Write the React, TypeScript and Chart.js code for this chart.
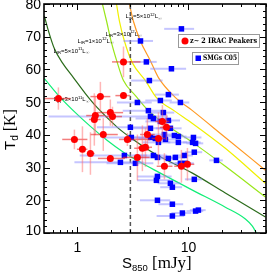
import React, { useEffect, useRef } from "react";
import { Chart, registerables } from "chart.js";
Chart.register(...registerables);

// ---------- data ----------
// z~2 IRAC peakers (red)
const redS = [2.60, 1.61, 2.60, 0.674, 1.98, 1.45, 2.07, 1.42, 1.71, 0.94, 2.82, 1.11, 1.31, 1.98, 5.83, 6.34, 4.27, 5.37, 4.10, 3.85, 3.47, 6.08, 8.65, 9.8];
const redT = [62.3, 51.7, 52.0, 51.1, 46.8, 45.9, 45.6, 44.7, 40.1, 38.6, 38.6, 35.6, 34.3, 32.8, 44.1, 42.3, 40.1, 38.9, 36.2, 35.9, 33.1, 30.4, 30.4, 31.0];
const redSlo = [0.55, 0.3, 0.4, 0.17, 0.48, 0.25, 0.28, 0.15, 0.4, 0.21, 0.45, 0.12, 0.1, 0.45, 0.8, 0.8, 0.6, 0.7, 0.6, 0.6, 0.9, 0.9, 1.2, 1.3];
const redShi = [1.1, 0.37, 0.4, 0.19, 0.6, 0.3, 0.45, 0.2, 0.6, 0.29, 1.7, 0.12, 0.12, 0.7, 0.9, 0.9, 0.7, 0.8, 0.6, 0.6, 1.0, 1.1, 1.3, 1.5];
const redTerr = [4.7, 4.5, 1.0, 3.4, 4.0, 6.0, 3.0, 8.0, 5.0, 3.0, 2.0, 7.0, 6.5, 1.0, 5.0, 4.0, 5.0, 8.0, 6.0, 7.0, 7.0, 4.0, 5.0, 5.0];

// SMGs C05 (blue)
const blueS = [8.65, 3.70, 4.18, 7.03, 4.45, 6.60, 3.47, 5.59, 8.47, 4.36, 5.95, 4.55, 4.84, 5.59, 6.60, 3.00, 4.55, 6.88, 3.06, 7.48, 8.12, 11.1, 6.08, 10.9, 11.6, 4.55, 5.04, 6.21, 5.37, 8.12, 11.3, 9.20, 7.63, 5.26, 4.84, 6.60, 9.40, 8.47, 17.9, 3.33, 2.65, 2.44, 5.26, 5.15, 11.3, 6.88, 7.17, 5.26, 7.17, 7.17, 8.83, 11.6, 12.3];
const blueT = [72.4, 68.7, 62.3, 60.2, 56.6, 52.3, 49.9, 50.5, 49.9, 47.4, 46.8, 45.6, 45.0, 44.1, 44.4, 42.3, 42.0, 42.0, 39.2, 39.8, 39.5, 39.2, 40.1, 37.7, 37.4, 39.2, 38.9, 38.6, 37.7, 37.7, 34.7, 33.7, 33.1, 33.1, 33.7, 32.8, 31.3, 31.3, 32.2, 31.3, 33.7, 31.6, 27.3, 26.1, 26.4, 25.2, 24.0, 20.0, 18.8, 15.2, 16.1, 16.7, 17.0];
const blueSlo = [2.6, 1.1, 1.0, 2.5, 1.4, 1.6, 1.2, 1.5, 1.7, 1.8, 1.5, 4.0, 1.5, 1.5, 1.8, 1.5, 1.6, 1.8, 1.4, 1.5, 1.5, 2.0, 1.5, 2.0, 2.0, 1.6, 1.5, 1.5, 1.5, 1.6, 2.0, 1.8, 1.7, 1.6, 1.6, 1.5, 1.8, 1.8, 2.5, 1.5, 1.6, 1.5, 1.8, 1.7, 2.0, 1.6, 1.6, 1.6, 1.8, 2.0, 1.8, 2.0, 2.0];
const blueShi = [2.6, 1.1, 1.0, 2.5, 1.4, 1.6, 1.2, 1.5, 1.7, 1.8, 1.5, 2.0, 1.5, 1.5, 1.8, 1.5, 1.6, 1.8, 1.4, 1.5, 1.5, 2.0, 1.5, 2.0, 2.0, 1.6, 1.5, 1.5, 1.5, 1.6, 2.0, 1.8, 1.7, 1.6, 1.6, 1.5, 1.8, 1.8, 2.5, 1.5, 1.6, 1.5, 1.8, 1.7, 2.0, 1.6, 1.6, 1.6, 1.8, 2.0, 1.8, 2.0, 2.0];

// constant L_IR curves
const c3e11S = [0.504, 0.703, 0.959, 1.31, 1.86, 2.60, 3.69, 5.37, 10.87, 21.5, 32.6, 37.7, 41.0];
const c3e11T = [57.2, 51.4, 46.8, 42.6, 38.3, 34.7, 31.6, 28.6, 23.1, 17.9, 14.3, 12.1, 10.0];
const c5e11S = [0.504, 0.548, 0.621, 0.733, 0.920, 1.18, 1.51, 2.29, 3.00, 4.94, 10.87, 21.5, 49.4];
const c5e11T = [76.3, 71.8, 66.3, 62.0, 57.5, 52.6, 48.3, 42.3, 39.2, 34.3, 28.3, 22.2, 14.9];
const c1e12S = [1.68, 1.83, 2.03, 2.29, 2.60, 3.33, 4.36, 6.60, 10.87, 21.5, 49.4];
const c1e12T = [80.0, 74.8, 68.1, 62.0, 56.6, 52.0, 47.4, 42.6, 37.7, 30.4, 21.0];
const c3e12S = [2.25, 2.39, 2.65, 3.13, 4.10, 5.15, 7.64, 10.87, 21.5, 49.4];
const c3e12T = [80.0, 74.8, 68.7, 62.0, 56.6, 51.4, 47.1, 43.5, 35.9, 25.2];
const c5e12S = [2.94, 3.19, 3.69, 4.55, 5.37, 7.64, 10.87, 21.5, 49.4];
const c5e12T = [80.0, 74.8, 68.7, 62.6, 57.5, 51.4, 47.4, 39.2, 29.2];

const dashS = [3, 3];
const dashT = [10, 80];

const xTickValues = [1, 10];
const xTickLabels = ["1", "10"];
const xMinorValues = [0.6, 0.7, 0.8, 0.9, 2, 3, 4, 5, 6, 7, 8, 9, 20, 30, 40, 50];
const yTickValues = [10, 20, 30, 40, 50, 60, 70, 80];
const yTickLabels = ["10", "20", "30", "40", "50", "60", "70", "80"];

// curve labels: mantissa, exponent, anchor S, anchor T
const lblMant = ["5", "3", "1", "5", "3"];
const lblExp = ["12", "12", "12", "11", "11"];
const lblS = [2.71, 1.79, 1.0, 0.608, 0.608];
const lblT = [75.7, 70.3, 68.1, 65.1, 50.2];

const pts = (xs: number[], ys: number[]) => xs.map((x, i) => ({ x, y: ys[i] }));

type Run = { t: string; s: number; dy?: number; f?: string };
function drawRuns(ctx: CanvasRenderingContext2D, x: number, y: number, runs: Run[], defFont: string) {
  for (const r of runs) {
    ctx.font = `${r.s}px ${r.f || defFont}`;
    ctx.fillText(r.t, x, y + (r.dy || 0));
    x += ctx.measureText(r.t).width;
  }
  return x;
}

const RED_IDX = 0;
const BLUE_IDX = 1;

const decor = {
  id: "decor",
  beforeDatasetDraw(chart: any, args: any) {
    const ctx: CanvasRenderingContext2D = chart.ctx;
    const xs = chart.scales.x, ys = chart.scales.y;
    const a = chart.chartArea;
    ctx.save();
    ctx.beginPath();
    ctx.rect(a.left, a.top, a.right - a.left, a.bottom - a.top);
    ctx.clip();
    if (args.index === BLUE_IDX) {
      // curve labels
      ctx.fillStyle = "#000";
      ctx.textBaseline = "alphabetic";
      ctx.textAlign = "left";
      for (let i = 0; i < lblMant.length; i++) {
        const x = xs.getPixelForValue(lblS[i]);
        const y = ys.getPixelForValue(lblT[i]);
        drawRuns(ctx, x, y, [
          { t: "L", s: 6 },
          { t: "IR", s: 4.2, dy: 1.5 },
          { t: "=" + lblMant[i] + "\u00d710", s: 6 },
          { t: lblExp[i], s: 4.2, dy: -2.5 },
          { t: "L", s: 6 },
          { t: "\u2609", s: 4.2, dy: 1.5, f: "'DejaVu Sans'" },
        ], "'Liberation Sans'");
      }
      ctx.strokeStyle = "rgba(140,140,255,0.5)";
      ctx.lineWidth = 2;
      for (let i = 0; i < blueS.length; i++) {
        const y = ys.getPixelForValue(blueT[i]);
        ctx.beginPath();
        ctx.moveTo(xs.getPixelForValue(Math.max(blueS[i] - blueSlo[i], 0.3)), y);
        ctx.lineTo(xs.getPixelForValue(blueS[i] + blueShi[i]), y);
        ctx.stroke();
      }
    }
    if (args.index === RED_IDX) {
      ctx.lineWidth = 1.5;
      for (let i = 0; i < redS.length; i++) {
        const x = xs.getPixelForValue(redS[i]);
        const y = ys.getPixelForValue(redT[i]);
        ctx.strokeStyle = "rgba(255,110,110,0.5)";
        ctx.beginPath();
        ctx.moveTo(x, ys.getPixelForValue(redT[i] - redTerr[i]));
        ctx.lineTo(x, ys.getPixelForValue(redT[i] + redTerr[i]));
        ctx.stroke();
        ctx.strokeStyle = "rgba(235,40,40,0.6)";
        ctx.beginPath();
        ctx.moveTo(xs.getPixelForValue(redS[i] - redSlo[i]), y);
        ctx.lineTo(xs.getPixelForValue(redS[i] + redShi[i]), y);
        ctx.stroke();
      }
    }
    ctx.restore();
  },
  afterDraw(chart: any) {
    const ctx: CanvasRenderingContext2D = chart.ctx;
    const xs = chart.scales.x, ys = chart.scales.y;
    const a = chart.chartArea;
    ctx.save();
    ctx.strokeStyle = "#000";
    ctx.fillStyle = "#000";
    // ticks
    ctx.lineWidth = 1;
    ctx.beginPath();
    for (let v = 12; v < 80; v += 2) {
      if (v % 10 === 0) continue;
      const y = Math.round(ys.getPixelForValue(v)) + 0.5;
      ctx.moveTo(a.left, y); ctx.lineTo(a.left + 3, y);
      ctx.moveTo(a.right, y); ctx.lineTo(a.right - 3, y);
    }
    for (const v of yTickValues) {
      const y = Math.round(ys.getPixelForValue(v)) + 0.5;
      ctx.moveTo(a.left, y); ctx.lineTo(a.left + 6, y);
      ctx.moveTo(a.right, y); ctx.lineTo(a.right - 6, y);
    }
    for (const v of xMinorValues) {
      const x = Math.round(xs.getPixelForValue(v)) + 0.5;
      ctx.moveTo(x, a.bottom); ctx.lineTo(x, a.bottom - 3);
      ctx.moveTo(x, a.top); ctx.lineTo(x, a.top + 3);
    }
    for (const v of xTickValues) {
      const x = Math.round(xs.getPixelForValue(v)) + 0.5;
      ctx.moveTo(x, a.bottom); ctx.lineTo(x, a.bottom - 6);
      ctx.moveTo(x, a.top); ctx.lineTo(x, a.top + 6);
    }
    ctx.stroke();
    // frame
    ctx.lineWidth = 1.6;
    ctx.strokeRect(a.left, a.top, a.right - a.left, a.bottom - a.top);
    // tick labels
    ctx.font = "14px 'Liberation Sans'";
    ctx.textAlign = "right";
    ctx.textBaseline = "middle";
    yTickValues.forEach((v, i) => {
      const y = Math.min(Math.max(ys.getPixelForValue(v), 5), 231);
      ctx.fillText(yTickLabels[i], a.left - 3, y + 0.5);
    });
    ctx.textAlign = "center";
    xTickValues.forEach((v, i) => {
      ctx.fillText(xTickLabels[i], xs.getPixelForValue(v), 248.5);
    });
    // axis titles
    ctx.textAlign = "left";
    ctx.textBaseline = "alphabetic";
    drawRuns(ctx, 122, 268, [
      { t: "S", s: 15 },
      { t: "850", s: 9.5, dy: 3 },
      { t: " [mJy]", s: 17, f: "'Liberation Serif'" },
    ], "'Liberation Sans'");
    ctx.save();
    ctx.translate(15, 150);
    ctx.rotate(-Math.PI / 2);
    drawRuns(ctx, 0, 0, [
      { t: "T", s: 15 },
      { t: "d", s: 10, dy: 3 },
      { t: " [K]", s: 16, f: "'Liberation Serif'" },
    ], "'Liberation Sans'");
    ctx.restore();
    // legend boxes
    ctx.lineWidth = 1;
    ctx.strokeStyle = "#999";
    ctx.fillStyle = "#fff";
    ctx.fillRect(178.5, 34.5, 81, 13);
    ctx.strokeRect(178.5, 34.5, 81, 13);
    ctx.fillRect(192.5, 52.5, 46, 12);
    ctx.strokeRect(192.5, 52.5, 46, 12);
    ctx.fillStyle = "#ff0000";
    ctx.beginPath();
    ctx.arc(185, 41, 3.5, 0, Math.PI * 2);
    ctx.fill();
    ctx.fillStyle = "#0000ff";
    ctx.fillRect(195.5, 55.5, 5.5, 5.5);
    ctx.fillStyle = "#000";
    ctx.font = "bold 7.5px 'DejaVu Serif'";
    ctx.textBaseline = "middle";
    ctx.fillText("z~ 2 IRAC Peakers", 190, 41.5, 67);
    ctx.fillText("SMGs C05", 203, 58.5, 34);
    ctx.restore();
  },
};

export default function App() {
  const ref = useRef<HTMLCanvasElement>(null);
  useEffect(() => {
    const curve = (label: string, xsv: number[], ysv: number[], color: string) => ({
      label,
      data: pts(xsv, ysv),
      showLine: true,
      borderColor: color,
      borderWidth: 1.2,
      pointRadius: 0,
      cubicInterpolationMode: "monotone" as const,
      fill: false,
    });
    const chart = new Chart(ref.current!, {
      type: "scatter",
      data: {
        datasets: [
          {
            label: "z~ 2 IRAC Peakers",
            data: pts(redS, redT),
            pointStyle: "circle",
            pointRadius: 3.5,
            backgroundColor: "#ff0000",
            borderWidth: 0,
          },
          {
            label: "SMGs C05",
            data: pts(blueS, blueT),
            pointStyle: "rect",
            pointRadius: 3.9,
            backgroundColor: "#0000ff",
            borderWidth: 0,
          },
          {
            label: "S850 = 3 mJy",
            data: pts(dashS, dashT),
            showLine: true,
            borderColor: "#555",
            borderWidth: 1.5,
            borderDash: [4, 3],
            pointRadius: 0,
          },
          curve("3e11", c3e11S, c3e11T, "#11ee77"),
          curve("5e11", c5e11S, c5e11T, "#2a6b1a"),
          curve("1e12", c1e12S, c1e12T, "#99e619"),
          curve("3e12", c3e12S, c3e12T, "#f0f000"),
          curve("5e12", c5e12S, c5e12T, "#ff9922"),
        ] as any,
      },
      options: {
        responsive: false,
        animation: false,
        devicePixelRatio: 1,
        layout: { padding: { left: 44, right: 9, top: 3, bottom: 42 } },
        plugins: { legend: { display: false }, tooltip: { enabled: false } },
        scales: {
          x: { type: "logarithmic", min: 0.5, max: 50, display: false },
          y: { type: "linear", min: 10, max: 80, display: false },
        },
      },
      plugins: [decor],
    });
    return () => chart.destroy();
  }, []);
  return (
    <div style={{ position: "fixed", left: 0, top: 0, width: 275, height: 275, background: "#fff" }}>
      <canvas ref={ref} width={275} height={275} style={{ display: "block", width: 275, height: 275 }} />
    </div>
  );
}
